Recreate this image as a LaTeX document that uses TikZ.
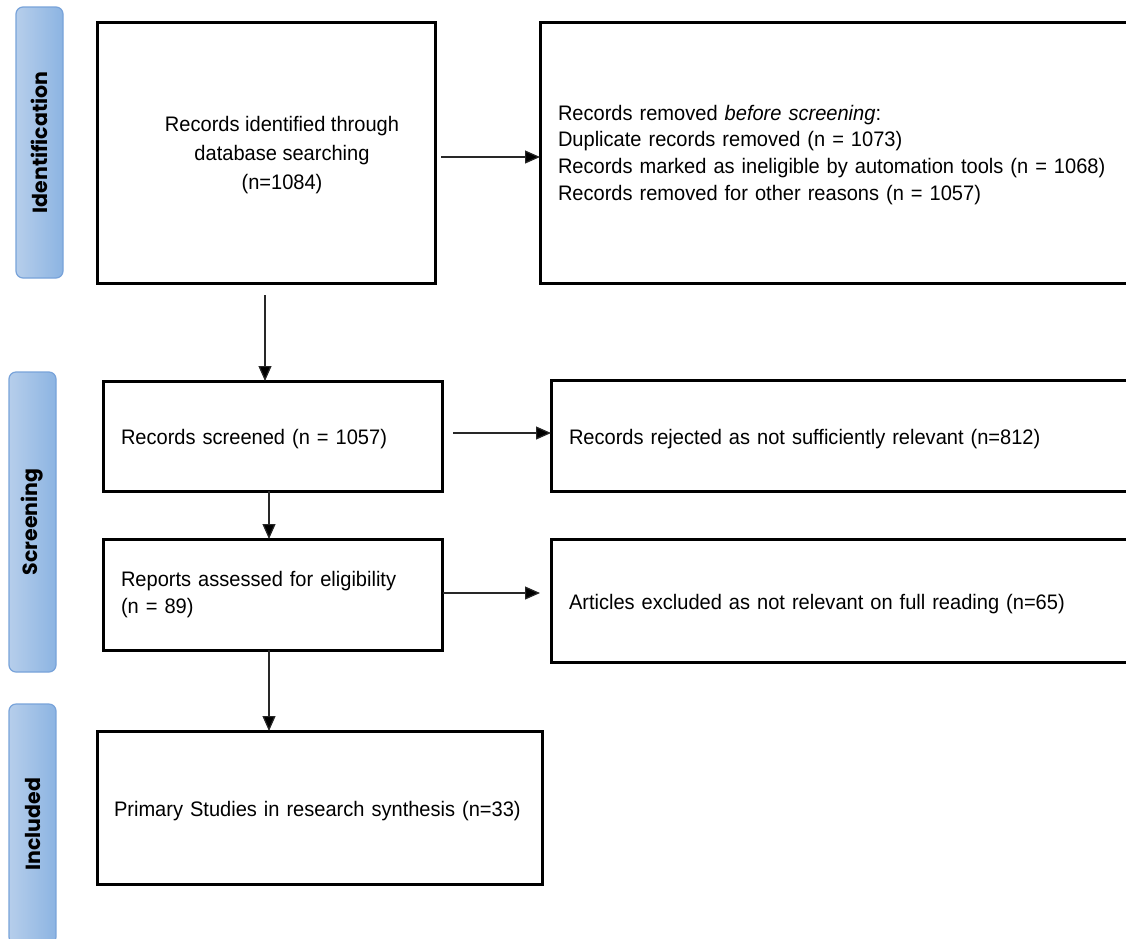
\documentclass[tikz,border=0pt]{standalone}
\usepackage{fontspec}
\setmainfont{Liberation Sans}[FakeStretch=0.955]
\newfontfamily\lanefont{Poppins}
\usetikzlibrary{arrows.meta,calc}
\tikzset{
  box/.style={draw=black, line width=3pt, rectangle, inner sep=0pt, outer sep=0pt},
  lbox/.style={box, align=left, inner xsep=18pt},
  oneline/.style={text height=20pt, text depth=3pt},
  arr/.style={line width=1.2pt, draw={rgb,255:red,40;green,40;blue,40}, -{Triangle[length=15pt,width=13pt,fill=black]}},
  lane/.style={draw={rgb,255:red,120;green,163;blue,218}, line width=1.2pt, rounded corners=7pt,
    left color={rgb,255:red,182;green,206;blue,235}, right color={rgb,255:red,140;green,180;blue,226},
    inner sep=0pt, outer sep=0pt},
  lanetext/.style={rotate=90, font=\lanefont\bfseries\fontsize{20.5}{24}\selectfont},
  txt/.style={font=\fontsize{21}{26.7}\selectfont}
}
\begin{document}
\begin{tikzpicture}[x=1pt,y=-1pt]
\useasboundingbox (0,0) rectangle (1126,938);
\clip (0,0) rectangle (1126,938);
\fill[white] (0,0) rectangle (1126,938);
% lanes
\node[lane, minimum height=271pt, minimum width=47pt] (lane1) at (39.5,142.5) {};
\node[lanetext] (lane1t) at (lane1.center) {Identification};
\node[lane, minimum height=300pt, minimum width=47pt] (lane2) at (32.5,522) {};
\node[lanetext] (lane2t) at (lane2.center) {Screening};
\node[lane, minimum height=240pt, minimum width=47pt] (lane3) at (32.5,824) {};
\node[lanetext] (lane3t) at (lane3.center) {Included};
% boxes
\node[box, minimum width=338pt, minimum height=261pt] (b1) at (266,152.5) {};
\node[align=center, font=\fontsize{21}{29}\selectfont] (b1t) at (282,155) {Records identified through\\database searching\\(n=1084)};
\node[lbox, txt, text width=564pt, minimum height=261pt, anchor=west] (b2) at (540,152.5)
  {\rule{0pt}{20pt}Records removed \textit{before screening}:\\Duplicate records removed (n = 1073)\\\mbox{Records marked as ineligible by automation tools (n = 1068)}\\Records removed for other reasons (n = 1057)};
\node[lbox, txt, oneline, text width=303pt, minimum height=110pt, anchor=west] (b3) at (103,436) {\mbox{Records screened (n = 1057)}};
\node[lbox, txt, oneline, text width=560pt, minimum height=111pt, anchor=west] (b4) at (551,436) {\mbox{Records rejected as not sufficiently relevant (n=812)}};
\node[lbox, txt, text width=303pt, minimum height=111pt, anchor=west] (b5) at (103,594.5) {Reports assessed for eligibility\\(n = 89)};
\node[lbox, txt, oneline, text width=560pt, minimum height=123pt, anchor=west] (b6) at (551,600.5) {\mbox{Articles excluded as not relevant on full reading (n=65)}};
\node[lbox, txt, oneline, inner xsep=17pt, text width=411pt, minimum height=153pt, anchor=west] (b7) at (97,807.5) {\mbox{Primary Studies in research synthesis (n=33)}};
% arrows
\draw[arr] ($(b1.east)+(6,4.5)$) -- ($(b2.west)+(0,4.5)$);
\draw[arr] ($(b1.south)+(-1,12)$) -- ($(b1.south |- b3.north)+(-1,0)$);
\draw[arr] ($(b3.east)+(11,-3)$) -- ($(b4.west)+(0,-3)$);
\draw[arr] ($(b3.south)+(-3.5,0)$) -- ($(b5.north)+(-3.5,0)$);
\draw[arr] ($(b5.east)+(1,-1.5)$) -- ($(b6.west |- b5.east)+(-11,-1.5)$);
\draw[arr] ($(b5.south)+(-3.5,0)$) -- ($(b5.south |- b7.north)+(-3.5,0)$);
\end{tikzpicture}
\end{document}
